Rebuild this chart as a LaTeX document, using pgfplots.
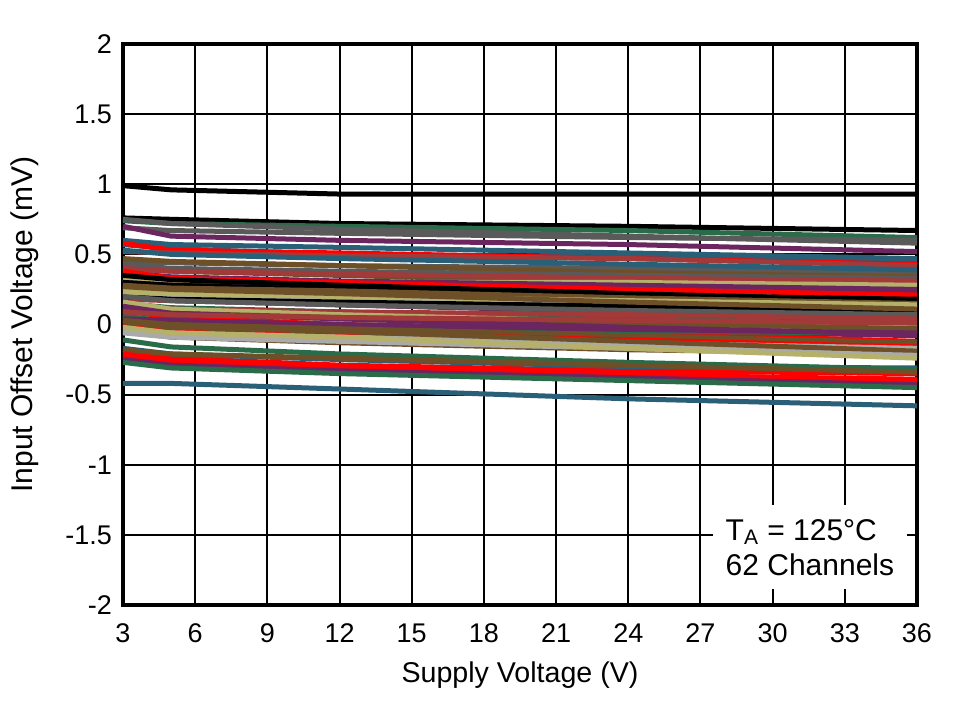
\documentclass[border=0pt]{standalone}
\usepackage{pgfplots}
\pgfplotsset{compat=1.18}
\usepackage{fontspec}
\setmainfont{Liberation Sans}

\definecolor{gry}{HTML}{5A5A5A}
\definecolor{pur}{HTML}{6B2660}
\definecolor{tea}{HTML}{2A5F78}
\definecolor{brn}{HTML}{6E5028}
\definecolor{brd}{HTML}{A33A3A}
\definecolor{kha}{HTML}{B5B06A}
\definecolor{grn}{HTML}{2A6B4A}
\definecolor{lgr}{HTML}{AAAAAA}
\definecolor{cya}{HTML}{00B5CC}

% one channel: colour, offset at 3 V, 5 V, 12 V, 24 V, 36 V
\newcommand{\ch}[6]{%
    \addplot[#1] coordinates {(3,#2)(5,#3)(12,#4)(24,#5)(36,#6)};
}

\begin{document}
\begin{tikzpicture}
    \fill[white] (-61.5pt,-48pt) rectangle (417.5pt,302.5pt);
    \useasboundingbox (-61.5pt,-48pt) rectangle (417.5pt,302.5pt);
    \begin{axis}[
            scale only axis,
            width=397pt,
            height=280.5pt,
            xmin=3, xmax=36,
            ymin=-2, ymax=2,
            xtick={3,6,...,36},
            ytick={-2,-1.5,...,2},
            grid=major,
            major grid style={black, line width=1pt},
            axis line style={black, line width=2pt},
            major tick length=0pt,
            tick label style={font=\fontsize{13.5}{15}\selectfont},
            xticklabel style={yshift=-6pt},
            yticklabel style={xshift=-2pt},
            /pgf/number format/assume math mode=true,
            xlabel={Supply Voltage (V)},
            ylabel={Input Offset Voltage (mV)},
            xlabel style={font=\fontsize{14.3}{16}\selectfont,
                at={(axis description cs:0.5,-0.125)}, anchor=center},
            ylabel style={font=\fontsize{15}{17}\selectfont,
                at={(axis description cs:-0.1235,0.5)}, anchor=center},
            every axis plot/.append style={line width=2.5pt, no markers},
            clip=true,
        ]
        \ch{cya}{0.05}{0.02}{-0.01}{-0.03}{-0.06}
        \ch{pur}{0.07}{0.04}{0.01}{-0.04}{-0.08}
        \ch{brn}{-0.05}{-0.09}{-0.13}{-0.18}{-0.21}
        \ch{kha}{0.07}{0.05}{0.02}{-0.03}{-0.04}
        \ch{red}{-0.19}{-0.24}{-0.29}{-0.33}{-0.35}
        \ch{pur}{0.25}{0.21}{0.18}{0.11}{0.05}
        \ch{brd}{0.28}{0.24}{0.20}{0.15}{0.12}
        \ch{lgr}{0.00}{-0.05}{-0.10}{-0.15}{-0.19}
        \ch{red}{0.03}{0.00}{-0.04}{-0.10}{-0.14}
        \ch{kha}{0.26}{0.24}{0.22}{0.18}{0.16}
        \ch{grn}{0.15}{0.12}{0.09}{0.05}{0.00}
        \ch{brn}{0.40}{0.38}{0.35}{0.30}{0.27}
        \ch{gry}{0.45}{0.44}{0.42}{0.40}{0.36}
        \ch{pur}{0.20}{0.17}{0.14}{0.09}{0.02}
        \ch{brd}{0.18}{0.17}{0.15}{0.10}{0.06}
        \ch{tea}{-0.17}{-0.21}{-0.25}{-0.30}{-0.31}
        \ch{red}{0.10}{0.05}{0.00}{-0.06}{-0.12}
        \ch{grn}{0.06}{0.02}{-0.02}{-0.05}{-0.06}
        \ch{tea}{0.60}{0.57}{0.55}{0.51}{0.47}
        \ch{black}{0.99}{0.96}{0.93}{0.93}{0.93}
        \ch{black}{0.76}{0.75}{0.72}{0.70}{0.67}
        \ch{grn}{0.74}{0.72}{0.70}{0.67}{0.62}
        \ch{gry}{0.75}{0.72}{0.68}{0.63}{0.58}
        \ch{gry}{0.69}{0.67}{0.65}{0.62}{0.60}
        \ch{pur}{0.70}{0.63}{0.60}{0.57}{0.52}
        \ch{tea}{0.57}{0.54}{0.50}{0.48}{0.45}
        \ch{red}{0.58}{0.53}{0.51}{0.47}{0.43}
        \ch{brd}{0.52}{0.51}{0.49}{0.47}{0.42}
        \ch{tea}{0.53}{0.50}{0.47}{0.43}{0.39}
        \ch{brn}{0.47}{0.45}{0.42}{0.37}{0.34}
        \ch{gry}{0.43}{0.40}{0.38}{0.35}{0.33}
        \ch{brd}{0.40}{0.38}{0.36}{0.33}{0.31}
        \ch{kha}{0.32}{0.31}{0.30}{0.30}{0.28}
        \ch{pur}{0.37}{0.34}{0.31}{0.28}{0.25}
        \ch{pur}{0.30}{0.28}{0.27}{0.25}{0.23}
        \ch{red}{0.38}{0.33}{0.30}{0.25}{0.21}
        \ch{black}{0.35}{0.32}{0.28}{0.22}{0.17}
        \ch{black}{0.30}{0.28}{0.25}{0.21}{0.18}
        \ch{brn}{0.28}{0.26}{0.24}{0.19}{0.15}
        \ch{lgr}{0.22}{0.20}{0.18}{0.15}{0.12}
        \ch{black}{0.20}{0.18}{0.16}{0.13}{0.10}
        \ch{kha}{0.23}{0.22}{0.20}{0.17}{0.14}
        \ch{gry}{0.20}{0.17}{0.14}{0.10}{0.07}
        \ch{brd}{0.12}{0.11}{0.09}{0.07}{0.04}
        \ch{brn}{0.27}{0.25}{0.22}{0.16}{0.11}
        \ch{kha}{0.16}{0.11}{0.07}{0.02}{-0.02}
        \ch{brn}{0.10}{0.08}{0.05}{0.01}{-0.03}
        \ch{pur}{0.13}{0.08}{0.04}{-0.02}{-0.07}
        \ch{brd}{0.09}{0.07}{0.05}{0.03}{0.01}
        \ch{pur}{0.04}{0.03}{0.00}{-0.035}{-0.06}
        \ch{brn}{0.03}{0.00}{-0.03}{-0.08}{-0.13}
        \ch{red}{0.00}{-0.03}{-0.06}{-0.11}{-0.16}
        \ch{lgr}{-0.04}{-0.06}{-0.09}{-0.13}{-0.17}
        \ch{brn}{0.02}{-0.02}{-0.05}{-0.12}{-0.19}
        \ch{lgr}{-0.06}{-0.09}{-0.12}{-0.17}{-0.22}
        \ch{kha}{-0.02}{-0.06}{-0.09}{-0.17}{-0.24}
        \ch{grn}{-0.11}{-0.16}{-0.21}{-0.27}{-0.32}
        \ch{brn}{-0.18}{-0.21}{-0.24}{-0.29}{-0.34}
        \ch{red}{-0.21}{-0.25}{-0.30}{-0.35}{-0.41}
        \ch{red}{-0.23}{-0.28}{-0.32}{-0.36}{-0.39}
        \ch{pur}{-0.25}{-0.29}{-0.33}{-0.38}{-0.43}
        \ch{grn}{-0.27}{-0.31}{-0.35}{-0.40}{-0.45}
        \ch{tea}{-0.42}{-0.42}{-0.46}{-0.53}{-0.58}
        \node[fill=white, align=left, anchor=center, inner sep=0pt,
              minimum width=97pt, minimum height=42pt,
              font=\fontsize{15}{17.5}\selectfont]
            at (axis cs:31.55,-1.59) {T\textsubscript{A} = 125°C\\62 Channels};
    \end{axis}
\end{tikzpicture}
\end{document}
